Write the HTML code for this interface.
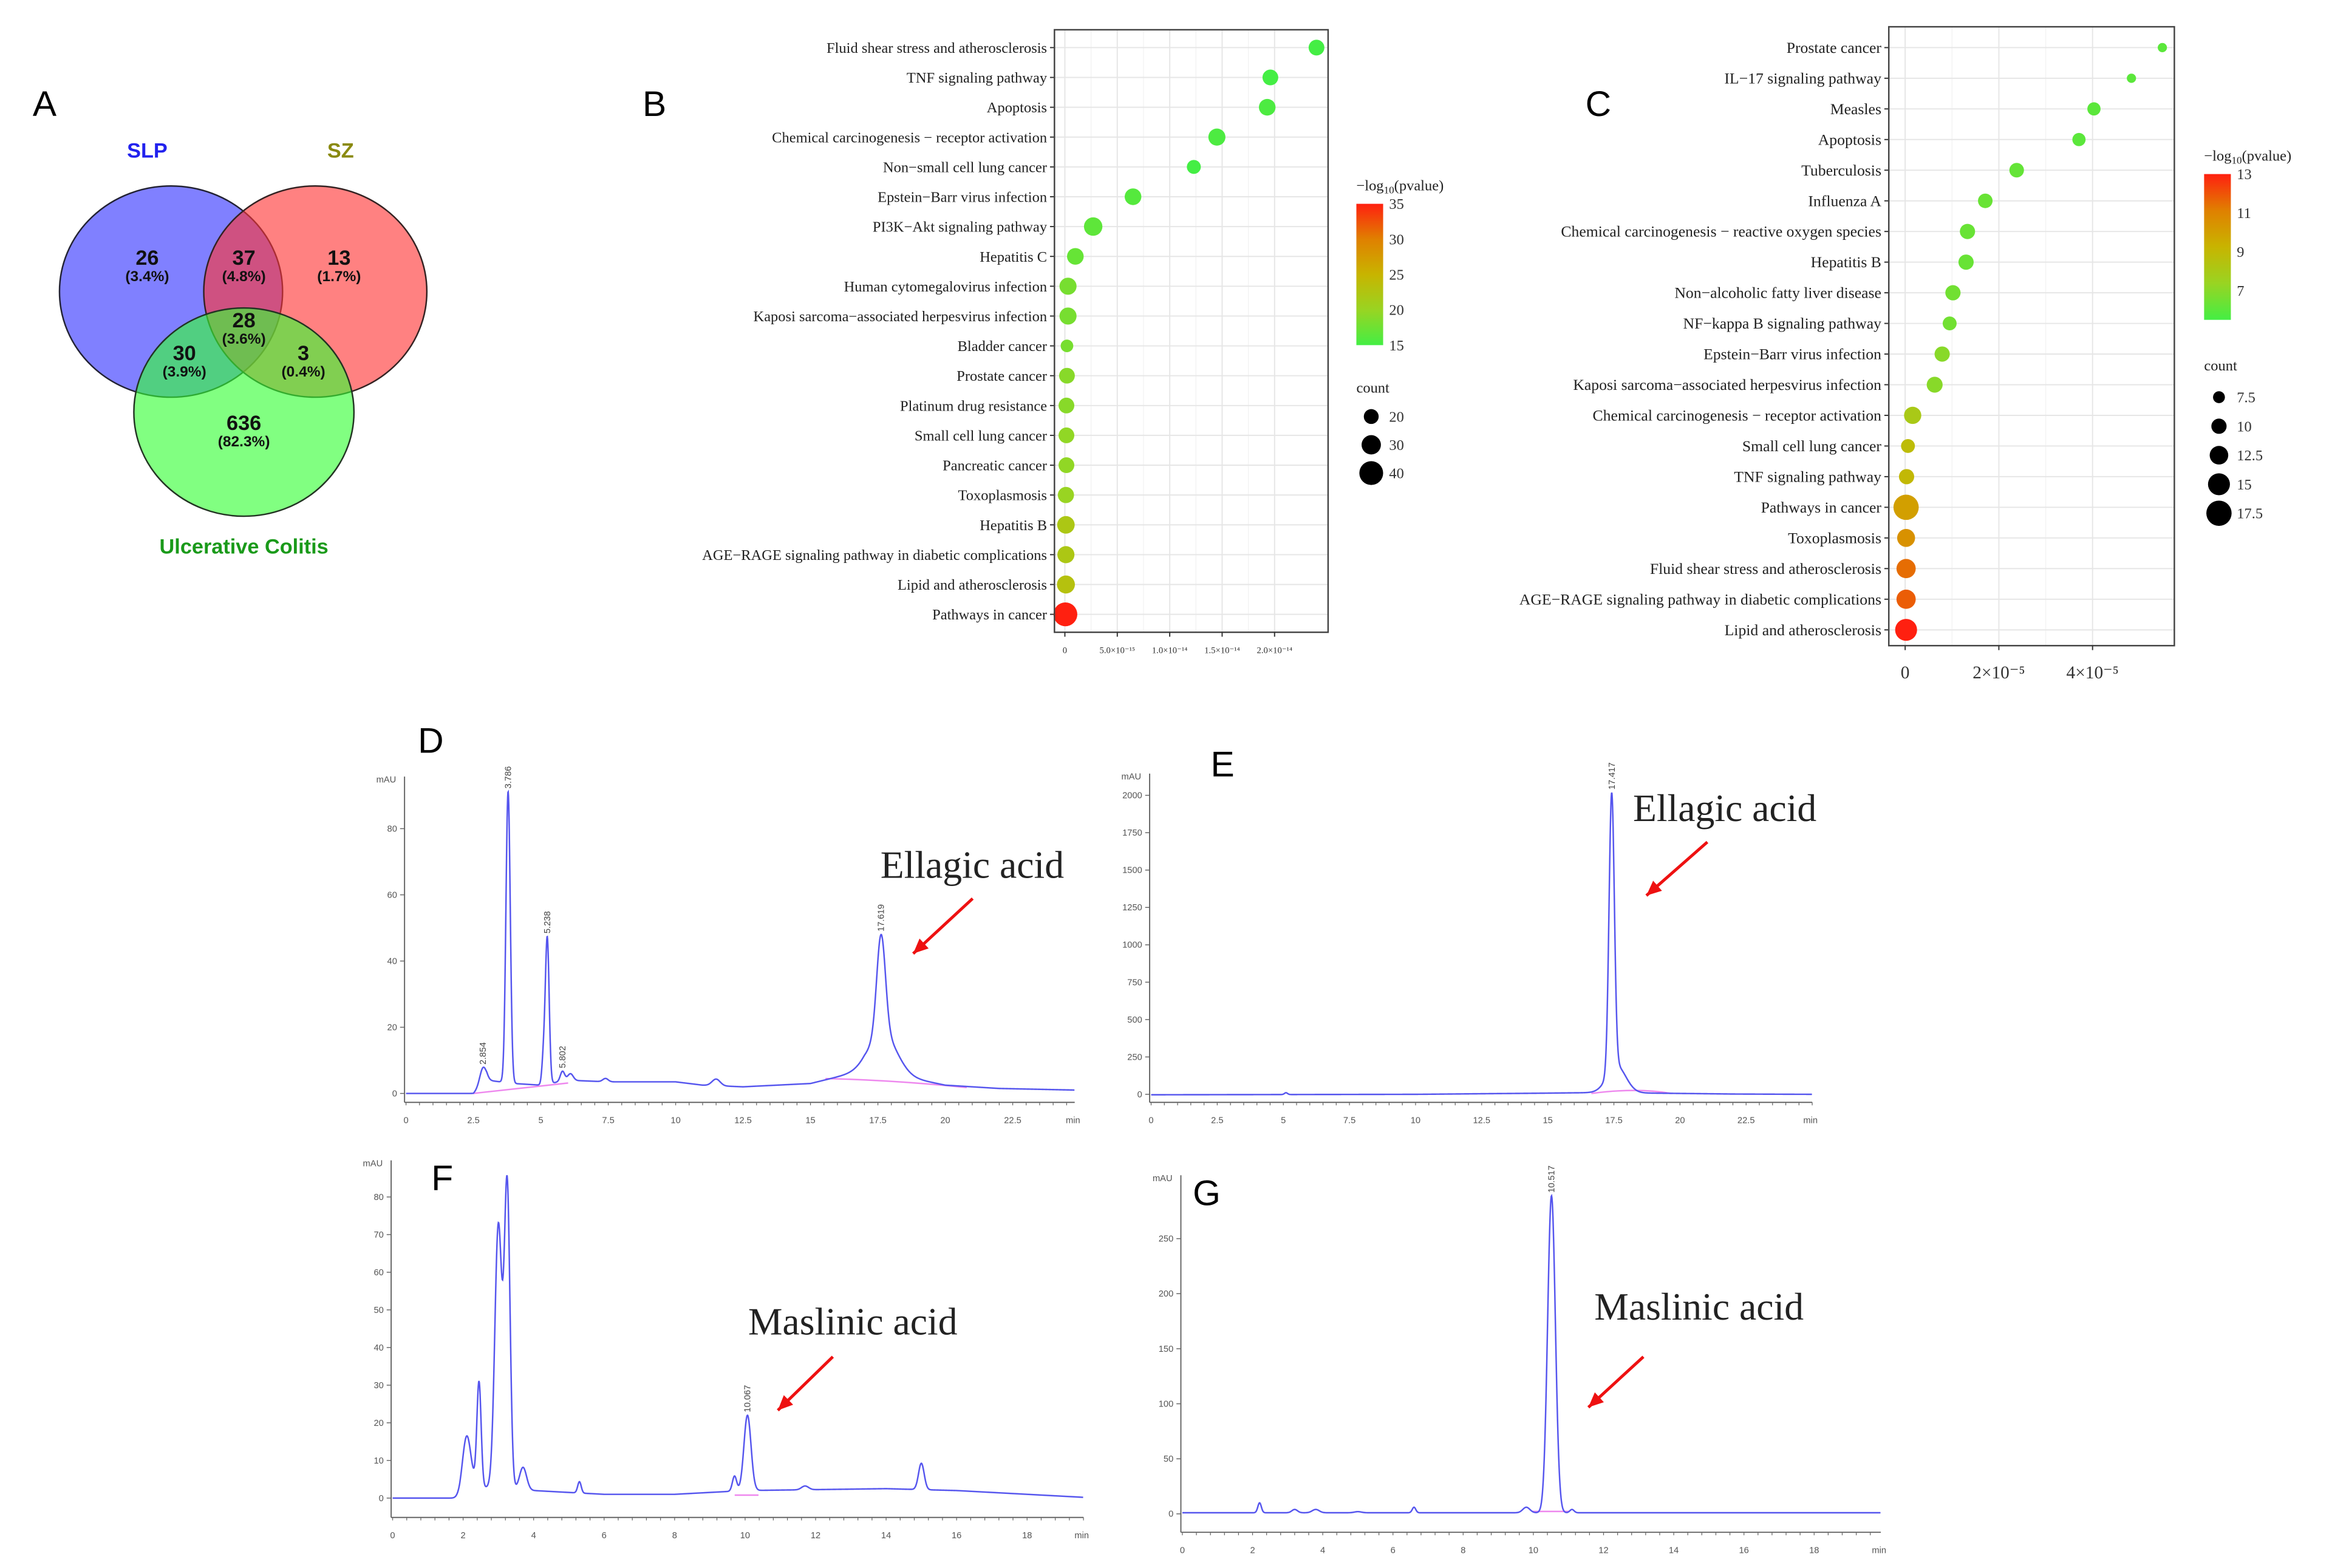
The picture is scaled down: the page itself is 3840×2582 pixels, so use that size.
<!DOCTYPE html>
<html><head><meta charset="utf-8"><style>
html,body{margin:0;padding:0;background:#fff;}
svg{display:block;}
</style></head><body>
<svg id="fig" xmlns="http://www.w3.org/2000/svg" width="3840" height="2582" viewBox="0 0 1568 1054" preserveAspectRatio="none" font-family="Liberation Sans, sans-serif">
<rect x="0" y="0" width="1568" height="1054" fill="#fff"/>
<!-- Panel A Venn -->
<g id="venn">
<text x="22" y="78" font-size="24">A</text>
<ellipse cx="115" cy="196" rx="75" ry="71" fill="#5555ff" fill-opacity="0.75" stroke="#223" stroke-width="1"/>
<ellipse cx="212" cy="196" rx="75" ry="71" fill="#ff3333" fill-opacity="0.62" stroke="#322" stroke-width="1"/>
<ellipse cx="164" cy="277" rx="74" ry="70" fill="#33ff33" fill-opacity="0.62" stroke="#232" stroke-width="1"/>
<g font-weight="bold" text-anchor="middle" fill="#111">
<text x="99" y="178" font-size="14">26</text>
<text x="99" y="189" font-size="10">(3.4%)</text>
<text x="164" y="178" font-size="14">37</text>
<text x="164" y="189" font-size="10">(4.8%)</text>
<text x="228" y="178" font-size="14">13</text>
<text x="228" y="189" font-size="10">(1.7%)</text>
<text x="164" y="220" font-size="14">28</text>
<text x="164" y="231" font-size="10">(3.6%)</text>
<text x="124" y="242" font-size="14">30</text>
<text x="124" y="253" font-size="10">(3.9%)</text>
<text x="204" y="242" font-size="14">3</text>
<text x="204" y="253" font-size="10">(0.4%)</text>
<text x="164" y="289" font-size="14">636</text>
<text x="164" y="300" font-size="10">(82.3%)</text>
<text x="99" y="106" font-size="14" fill="#2222ee">SLP</text>
<text x="229" y="106" font-size="14" fill="#8a8a10">SZ</text>
<text x="164" y="372" font-size="14" fill="#1a9a1a">Ulcerative Colitis</text>
</g>
</g>
<g id="panelB"></g>
<g id="panelC"></g>
<g id="chroms"></g>
</svg>
<script>
// ---------- Panel B data ----------
const bTerms = ["Fluid shear stress and atherosclerosis","TNF signaling pathway","Apoptosis","Chemical carcinogenesis \u2212 receptor activation","Non\u2212small cell lung cancer","Epstein\u2212Barr virus infection","PI3K\u2212Akt signaling pathway","Hepatitis C","Human cytomegalovirus infection","Kaposi sarcoma\u2212associated herpesvirus infection","Bladder cancer","Prostate cancer","Platinum drug resistance","Small cell lung cancer","Pancreatic cancer","Toxoplasmosis","Hepatitis B","AGE\u2212RAGE signaling pathway in diabetic complications","Lipid and atherosclerosis","Pathways in cancer"];
const bPvalue = [24.0e-15,19.6e-15,19.3e-15,14.5e-15,12.3e-15,6.5e-15,2.7e-15,1.0e-15,0.3e-15,0.3e-15,0.2e-15,0.2e-15,0.15e-15,0.15e-15,0.15e-15,0.1e-15,0.1e-15,0.1e-15,0.1e-15,0.05e-15];
const bCount = [22,22,24,25,18,24,28,24,25,25,15,22,22,22,22,23,26,25,27,40];
const bLogP = [15,15,15.5,15.5,15,16,16.5,17,18,18,18,19,19,19.5,19.5,20,22,22,23,35];
const bXTicks = [0,5e-15,1e-14,1.5e-14,2e-14];
const bXTickLabels = ["0","5.0\u00d710\u207b\u00b9\u2075","1.0\u00d710\u207b\u00b9\u2074","1.5\u00d710\u207b\u00b9\u2074","2.0\u00d710\u207b\u00b9\u2074"];
const bLegendCounts = [20,30,40];
const bColorTicks = [35,30,25,20,15];
// ---------- Panel C data ----------
const cTerms = ["Prostate cancer","IL\u221217 signaling pathway","Measles","Apoptosis","Tuberculosis","Influenza A","Chemical carcinogenesis \u2212 reactive oxygen species","Hepatitis B","Non\u2212alcoholic fatty liver disease","NF\u2212kappa B signaling pathway","Epstein\u2212Barr virus infection","Kaposi sarcoma\u2212associated herpesvirus infection","Chemical carcinogenesis \u2212 receptor activation","Small cell lung cancer","TNF signaling pathway","Pathways in cancer","Toxoplasmosis","Fluid shear stress and atherosclerosis","AGE\u2212RAGE signaling pathway in diabetic complications","Lipid and atherosclerosis"];
const cPvalue = [5.49e-5,4.83e-5,4.03e-5,3.71e-5,2.38e-5,1.71e-5,1.33e-5,1.30e-5,1.02e-5,0.95e-5,0.79e-5,0.63e-5,0.16e-5,0.06e-5,0.03e-5,0.02e-5,0.02e-5,0.02e-5,0.02e-5,0.02e-5];
const cCount = [5.5,5.5,8.5,8.5,9.5,9.5,10,10,10,9,10,10.5,11.5,9,10,17.5,12,13,13,15];
const cLogP = [6,6,6,6,6.2,6.3,6.3,6.3,6.5,6.5,7,7,8,8.8,9,10,10.5,11.5,11.8,13];
const cXTicks = [0,2e-5,4e-5];
const cXTickLabels = ["0","2\u00d710\u207b\u2075","4\u00d710\u207b\u2075"];
const cLegendCounts = [7.5,10,12.5,15,17.5];
const cColorTicks = [13,11,9,7];

const NS = "http://www.w3.org/2000/svg";
function mk(parent, tag, attrs, txt){
  const e = document.createElementNS(NS, tag);
  for (const k in attrs) e.setAttribute(k, attrs[k]);
  if (txt !== undefined) e.textContent = txt;
  parent.appendChild(e);
  return e;
}
const stops = [[0x44,0xee,0x44],[0x99,0xd4,0x22],[0xc8,0xb4,0x00],[0xe0,0x80,0x00],[0xff,0x20,0x10]];
function colorAt(t){
  t = Math.max(0, Math.min(1, t)) * (stops.length - 1);
  const i = Math.min(stops.length - 2, Math.floor(t)), f = t - i;
  const c = stops[i].map((v, k) => Math.round(v + (stops[i+1][k] - v) * f));
  return `rgb(${c[0]},${c[1]},${c[2]})`;
}

function dotPlot(g, cfg){
  const {terms, pv, count, logp, xTicks, xLabels, box, x0, xPer, y0, dy, rFn, cMin, cMax, lab, legend} = cfg;
  const xs = v => x0 + v * xPer;
  const ys = i => y0 + i * dy;
  let e = mk(g, "rect", {x: box[0], y: box[1], width: box[2]-box[0], height: box[3]-box[1], fill: "#fff"});
  
  
  xTicks.forEach((t) => {
    e = mk(g, "line", {x1: xs(t), x2: xs(t), y1: box[1], y2: box[3], stroke: "#e6e6e6", "stroke-width": 0.8});
    
    
  });
  for (let k = 0; k < xTicks.length - 1; k++) {
    const m = (xTicks[k] + xTicks[k+1]) / 2;
    e = mk(g, "line", {x1: xs(m), x2: xs(m), y1: box[1], y2: box[3], stroke: "#f2f2f2", "stroke-width": 0.5});
    
    
  }
  terms.forEach((t, i) => {
    e = mk(g, "line", {x1: box[0], x2: box[2], y1: ys(i), y2: ys(i), stroke: "#e6e6e6", "stroke-width": 0.8});
    
    
    e = mk(g, "text", {x: box[0]-5, y: ys(i)+3.5, "font-size": lab, "text-anchor": "end", "font-family": "Liberation Serif, serif", fill: "#222"}, t);
    
    
    e = mk(g, "line", {x1: box[0]-3, x2: box[0], y1: ys(i), y2: ys(i), stroke: "#333", "stroke-width": 0.8});
    
    
  });
  terms.forEach((t, i) => {
    e = mk(g, "circle", {cx: xs(pv[i]), cy: ys(i), r: rFn(count[i]), fill: colorAt((logp[i]-cMin)/(cMax-cMin))});
    
    
  });
  e = mk(g, "rect", {x: box[0], y: box[1], width: box[2]-box[0], height: box[3]-box[1], fill: "none", stroke: "#444", "stroke-width": 1});
  
  
  xTicks.forEach((t, k) => {
    e = mk(g, "line", {x1: xs(t), x2: xs(t), y1: box[3], y2: box[3]+3, stroke: "#333", "stroke-width": 0.8});
    
    
    e = mk(g, "text", {x: xs(t), y: box[3]+cfg.tickDy, "font-size": cfg.tickFs, "text-anchor": "middle", "font-family": "Liberation Serif, serif", fill: "#333"}, xLabels[k]);
    
    
  });
  const L = legend;
  e = mk(g, "text", {x: L.x, y: L.titleY, "font-size": 10, "font-family": "Liberation Serif, serif", fill: "#222"});
  
  
  e.innerHTML = '\u2212log<tspan font-size="7" dy="2">10</tspan><tspan dy="-2">(pvalue)</tspan>';
  const defs = mk(g, "defs", {});
  const gr = mk(defs, "linearGradient", {id: L.gid, x1: 0, y1: 1, x2: 0, y2: 0});
  for (let k = 0; k <= 4; k++) mk(gr, "stop", {offset: k/4, "stop-color": colorAt(k/4)});
  e = mk(g, "rect", {x: L.x, y: L.barY0, width: 18, height: L.barY1 - L.barY0, fill: `url(#${L.gid})`});
  
  
  L.ticks.forEach((v) => {
    const yy = L.barY1 - (v - cMin) / (cMax - cMin) * (L.barY1 - L.barY0);
    e = mk(g, "text", {x: L.x + 22, y: yy + 3.5, "font-size": 10, "font-family": "Liberation Serif, serif", fill: "#333"}, String(v));
    
    
  });
  e = mk(g, "text", {x: L.x, y: L.countY, "font-size": 10, "font-family": "Liberation Serif, serif", fill: "#222"}, "count");
  
  
  L.counts.forEach((c, k) => {
    const yy = L.dotY0 + k * L.dotDy;
    e = mk(g, "circle", {cx: L.x + 10, cy: yy, r: rFn(c), fill: "#000"});
    
    
    e = mk(g, "text", {x: L.x + 22, y: yy + 3.5, "font-size": 10, "font-family": "Liberation Serif, serif", fill: "#333"}, String(c));
    
    
  });
}

const gB = document.getElementById("panelB");
let lb = mk(gB, "text", {x: 432, y: 78, "font-size": 24}, "B");


dotPlot(gB, {terms: bTerms, pv: bPvalue, count: bCount, logp: bLogP, xTicks: bXTicks, xLabels: bXTickLabels,
  box: [709, 20, 893, 425], x0: 716, xPer: 7.05e15, y0: 32, dy: 20.05, rFn: c => 5 + (c - 20) * 0.15, cMin: 15, cMax: 35, lab: 10,
  tickDy: 14, tickFs: 6,
  legend: {x: 912, titleY: 128, gid: "gB", barY0: 137, barY1: 232, ticks: bColorTicks, countY: 264, counts: bLegendCounts, dotY0: 280, dotDy: 19}});

const gC = document.getElementById("panelC");
lb = mk(gC, "text", {x: 1066, y: 78, "font-size": 24}, "C");


dotPlot(gC, {terms: cTerms, pv: cPvalue, count: cCount, logp: cLogP, xTicks: cXTicks, xLabels: cXTickLabels,
  box: [1270, 18, 1462, 434], x0: 1281, xPer: 3.15e6, y0: 32, dy: 20.6, rFn: c => 4 + (c - 7.5) * 0.45, cMin: 5.5, cMax: 13, lab: 10.5,
  tickDy: 22, tickFs: 12,
  legend: {x: 1482, titleY: 108, gid: "gC", barY0: 117, barY1: 215, ticks: cColorTicks, countY: 249, counts: cLegendCounts, dotY0: 267, dotDy: 19.5}});

// ---------- Chromatogram data ----------
const dPeaks = [[2.854,5,0.12],[3.786,88,0.08],[5.1,8,0.06],[5.238,44,0.07],[5.802,3,0.08],[6.1,2,0.1],[7.4,1,0.1],[11.5,2,0.15],[17.619,30,0.16],[17.7,12,0.5]];
const dBase = [[0,0],[2.5,0],[3,4],[4,3],[5,2.5],[6,4],[7.5,3.5],[10,3.5],[11,2.5],[12.5,2],[15,3],[16,5],[17,7],[18.5,5],[20,2.5],[22,1.5],[24.9,1]];
const dLabels = ["2.854","3.786","5.238","5.802","17.619"];
const dLabelTimes = [2.854,3.786,5.238,5.802,17.619];
const ePeaks = [[5.1,12,0.06],[17.417,1850,0.1],[17.6,180,0.35]];
const eBase = [[0,-3],[10,0],[15,8],[17,12],[19,8],[22,2],[25,0]];
const eLabels = ["17.417"];
const eLabelTimes = [17.417];
const fPeaks = [[2.1,15,0.12],[2.45,28,0.06],[3.0,70,0.1],[3.25,80,0.08],[3.7,6,0.1],[5.3,3,0.05],[9.7,4,0.06],[10.067,20,0.1],[11.7,1,0.1],[15.0,7,0.08]];
const fBase = [[0,0],[1.9,0],[2.3,3],[4,2],[6,1],[8,1],[10,2],[14,2.5],[16,2],[20,0]];
const fLabels = ["10.067"];
const fLabelTimes = [10.067];
const gPeaks = [[2.2,9,0.05],[3.2,3,0.08],[3.8,3,0.1],[5.0,1,0.1],[6.6,5,0.05],[9.8,5,0.1],[10.517,288,0.11],[11.1,3,0.06]];
const gBase = [[0,1],[20,1]];
const gLabels = ["10.517"];
const gLabelTimes = [10.517];
const dYTicks = [0,20,40,60,80];
const eYTicks = [0,250,500,750,1000,1250,1500,1750,2000];
const fYTicks = [0,10,20,30,40,50,60,70,80];
const gYTicks = [0,50,100,150,200,250];
const dXTicks = [0,2.5,5,7.5,10,12.5,15,17.5,20,22.5];
const eXTicks = [0,2.5,5,7.5,10,12.5,15,17.5,20,22.5];
const fXTicks = [0,2,4,6,8,10,12,14,16,18];
const gXTicks = [0,2,4,6,8,10,12,14,16,18];

function interp(pts, t){
  if (t <= pts[0][0]) return pts[0][1];
  for (let i = 1; i < pts.length; i++) if (t <= pts[i][0]) {
    const f = (t - pts[i-1][0]) / (pts[i][0] - pts[i-1][0]);
    return pts[i-1][1] + f * (pts[i][1] - pts[i-1][1]);
  }
  return pts[pts.length-1][1];
}
function chrom(cfg){
  const g = mk(document.getElementById("chroms"), "g", {});
  
  
  const xs = t => cfg.x0 + t * cfg.xPer;
  const ys = v => cfg.y0 - v * cfg.yPer;
  let e = mk(g, "line", {x1: cfg.x0 - 1, x2: cfg.x0 - 1, y1: cfg.yTop, y2: cfg.axisY, stroke: "#666", "stroke-width": 0.8});
  
  
  e = mk(g, "line", {x1: cfg.x0 - 1, x2: xs(cfg.tMax), y1: cfg.axisY, y2: cfg.axisY, stroke: "#666", "stroke-width": 0.8});
  
  
  cfg.yTicks.forEach(v => {
    e = mk(g, "line", {x1: cfg.x0 - 4, x2: cfg.x0 - 1, y1: ys(v), y2: ys(v), stroke: "#666", "stroke-width": 0.6});
    
    
    e = mk(g, "text", {x: cfg.x0 - 6, y: ys(v) + 2, "font-size": 6, "text-anchor": "end", fill: "#555"}, String(v));
    
    
  });
  for (let t = 0; t <= cfg.tMax; t += cfg.minor) {
    e = mk(g, "line", {x1: xs(t), x2: xs(t), y1: cfg.axisY, y2: cfg.axisY + 2, stroke: "#666", "stroke-width": 0.5});
    
    
  }
  cfg.xTicks.forEach(t => {
    e = mk(g, "text", {x: xs(t), y: cfg.axisY + 14, "font-size": 6, "text-anchor": "middle", fill: "#555"}, String(t));
    
    
  });
  e = mk(g, "text", {x: xs(cfg.tMax) - 6, y: cfg.axisY + 14, "font-size": 6, fill: "#555"}, "min");
  
  
  e = mk(g, "text", {x: cfg.x0 - 20, y: cfg.yTop + 4, "font-size": 6, fill: "#555"}, "mAU");
  
  
  e = mk(g, "path", {d: cfg.pink, fill: "none", stroke: "#ee88ee", "stroke-width": 1});
  
  
  let d = "";
  for (let t = 0; t <= cfg.tMax; t += 0.01) {
    let v = interp(cfg.base, t);
    cfg.peaks.forEach(p => { v += p[1] * Math.exp(-0.5 * Math.pow((t - p[0]) / p[2], 2)); });
    d += (d ? "L" : "M") + xs(t).toFixed(2) + "," + ys(v).toFixed(2);
  }
  e = mk(g, "path", {d: d, fill: "none", stroke: "#5555ee", "stroke-width": 1});
  
  
  cfg.labels.forEach((lab, k) => {
    const t = cfg.labelTimes[k];
    let v = interp(cfg.base, t);
    cfg.peaks.forEach(p => { v += p[1] * Math.exp(-0.5 * Math.pow((t - p[0]) / p[2], 2)); });
    const x = xs(t) + 2, y = ys(v) - 2;
    e = mk(g, "text", {x: x, y: y, "font-size": 6, fill: "#444", transform: `rotate(-90 ${x} ${y})`}, lab);
    
    
  });
  e = mk(g, "text", {x: cfg.panel[1], y: cfg.panel[2], "font-size": 24}, cfg.panel[0]);
  
  
  e = mk(g, "text", {x: cfg.ann[1], y: cfg.ann[2], "font-size": 26, "font-family": "Liberation Serif, serif", fill: "#222"}, cfg.ann[0]);
  
  
  const a = cfg.arrow;
  e = mk(g, "line", {x1: a[0], y1: a[1], x2: a[2], y2: a[3], stroke: "#ee1111", "stroke-width": 2});
  
  
  const ang = Math.atan2(a[3]-a[1], a[2]-a[0]);
  const hx = a[2], hy = a[3], L = 10, W = 4.5;
  const bx = hx - L*Math.cos(ang), by = hy - L*Math.sin(ang);
  e = mk(g, "polygon", {points: `${hx},${hy} ${bx - W*Math.sin(ang)},${by + W*Math.cos(ang)} ${bx + W*Math.sin(ang)},${by - W*Math.cos(ang)}`, fill: "#ee1111"});
  
  
}
chrom({name: "panel-d-chromatogram", peaks: dPeaks, base: dBase, labels: dLabels, labelTimes: dLabelTimes, yTicks: dYTicks, xTicks: dXTicks,
  x0: 273, xPer: 18.13, y0: 735, yPer: 2.225, tMax: 24.8, minor: 0.5, yTop: 522, axisY: 741,
  pink: "M318,735 L382,728 M555,725 Q600,726 650,731", panel: ["D", 281, 506], ann: ["Ellagic acid", 592, 590], arrow: [654, 604, 614, 641]});
chrom({name: "panel-e-chromatogram", peaks: ePeaks, base: eBase, labels: eLabels, labelTimes: eLabelTimes, yTicks: eYTicks, xTicks: eXTicks,
  x0: 774, xPer: 17.78, y0: 735.6, yPer: 0.1005, tMax: 25, minor: 0.5, yTop: 520, axisY: 741,
  pink: "M1070,735 Q1100,731 1124,735", panel: ["E", 814, 522], ann: ["Ellagic acid", 1098, 552], arrow: [1148, 566, 1107, 602]});
chrom({name: "panel-f-chromatogram", peaks: fPeaks, base: fBase, labels: fLabels, labelTimes: fLabelTimes, yTicks: fYTicks, xTicks: fXTicks,
  x0: 264, xPer: 23.7, y0: 1007, yPer: 2.53, tMax: 19.6, minor: 0.4, yTop: 780, axisY: 1020,
  pink: "M494,1005 L510,1005", panel: ["F", 290, 800], ann: ["Maslinic acid", 503, 897], arrow: [560, 912, 523, 948]});
chrom({name: "panel-g-chromatogram", peaks: gPeaks, base: gBase, labels: gLabels, labelTimes: gLabelTimes, yTicks: gYTicks, xTicks: gXTicks,
  x0: 795, xPer: 23.6, y0: 1017.6, yPer: 0.74, tMax: 19.9, minor: 0.4, yTop: 790, axisY: 1030,
  pink: "M1030,1016 L1055,1016", panel: ["G", 802, 810], ann: ["Maslinic acid", 1072, 887], arrow: [1105, 912, 1068, 946]});
</script>
</body></html>
